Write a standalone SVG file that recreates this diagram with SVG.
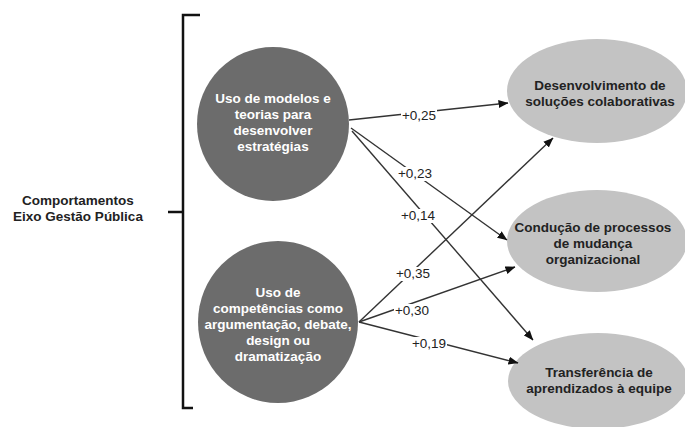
<svg xmlns="http://www.w3.org/2000/svg" width="685" height="427" viewBox="0 0 685 427">
<style>
.t{font-family:"Liberation Sans",Arial,sans-serif;font-size:13.5px;text-anchor:middle}
.b{font-weight:bold}
.w{fill:#ffffff}
.d{fill:#222222}
.src{fill:#6c6c6c}
.tgt{fill:#c3c3c3}
.edge{stroke:#333333;stroke-width:1.4;fill:none;marker-end:url(#ah)}
.lbl{font-family:"Liberation Sans",Arial,sans-serif;font-size:13.5px;text-anchor:middle;fill:#222222}
.bg{fill:#ffffff}
.br{stroke:#111111;stroke-width:2.5;fill:none}
</style>
<defs>
<marker id="ah" markerWidth="10" markerHeight="8" refX="9.5" refY="4" orient="auto" markerUnits="userSpaceOnUse">
<path d="M0,0 L10,4 L0,8 Z" fill="#111111"/>
</marker>
</defs>
<rect width="685" height="427" fill="#ffffff"/>
<g id="bracket">
<path class="br" d="M200,15 H183 V408 H193"/>
<path class="br" d="M168,212 H183"/>
<text class="t b d" x="78" y="205">Comportamentos</text>
<text class="t b d" x="78" y="221">Eixo Gestão Pública</text>
</g>
<g id="n1">
<ellipse class="src" cx="273" cy="124" rx="76" ry="77"/>
<text class="t b w" x="273" y="103">Uso de modelos e</text>
<text class="t b w" x="273" y="119">teorias para</text>
<text class="t b w" x="273" y="135">desenvolver</text>
<text class="t b w" x="273" y="151">estratégias</text>
</g>
<g id="n2">
<ellipse class="src" cx="278" cy="322" rx="80" ry="81"/>
<text class="t b w" x="278" y="297">Uso de</text>
<text class="t b w" x="278" y="313">competências como</text>
<text class="t b w" x="278" y="329">argumentação, debate,</text>
<text class="t b w" x="278" y="345">design ou</text>
<text class="t b w" x="278" y="361">dramatização</text>
</g>
<g id="t1">
<ellipse class="tgt" cx="597" cy="91" rx="90" ry="52"/>
<text class="t b d" x="600" y="90">Desenvolvimento de</text>
<text class="t b d" x="600" y="106">soluções colaborativas</text>
</g>
<g id="t2">
<ellipse class="tgt" cx="597" cy="241" rx="90" ry="51"/>
<text class="t b d" x="593" y="232">Condução de processos</text>
<text class="t b d" x="593" y="248">de mudança</text>
<text class="t b d" x="593" y="264">organizacional</text>
</g>
<g id="t3">
<ellipse class="tgt" cx="598" cy="381" rx="90" ry="48"/>
<text class="t b d" x="599" y="377">Transferência de</text>
<text class="t b d" x="599" y="393">aprendizados à equipe</text>
</g>
<g id="connectors">
<line class="edge" x1="349" y1="120" x2="508" y2="103"/>
<line class="edge" x1="351" y1="128" x2="507" y2="240"/>
<line class="edge" x1="352" y1="131" x2="533" y2="340"/>
<line class="edge" x1="359" y1="322" x2="553" y2="138"/>
<line class="edge" x1="359" y1="322" x2="515" y2="267"/>
<line class="edge" x1="359" y1="322" x2="518" y2="363"/>
<rect class="bg" x="401" y="109" width="36" height="14"/>
<rect class="bg" x="397" y="167" width="36" height="14"/>
<rect class="bg" x="400" y="209" width="36" height="14"/>
<rect class="bg" x="395" y="267" width="36" height="14"/>
<rect class="bg" x="394" y="304" width="36" height="14"/>
<rect class="bg" x="411" y="337" width="36" height="14"/>
<text class="lbl" x="419" y="120">+0,25</text>
<text class="lbl" x="415" y="178">+0,23</text>
<text class="lbl" x="418" y="220">+0,14</text>
<text class="lbl" x="413" y="278">+0,35</text>
<text class="lbl" x="412" y="315">+0,30</text>
<text class="lbl" x="429" y="348">+0,19</text>
</g>
</svg>
